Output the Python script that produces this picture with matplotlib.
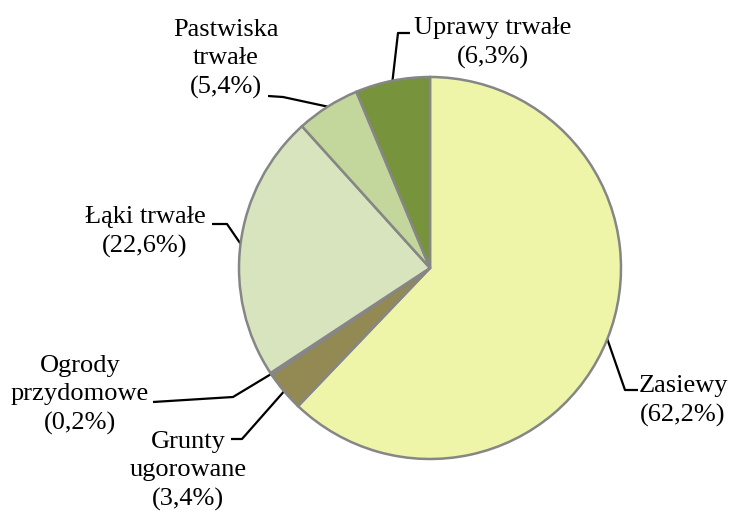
import numpy as np
import matplotlib
matplotlib.use("Agg")
import matplotlib.pyplot as plt

labels = ["Zasiewy", "Grunty\nugorowane", "Ogrody\nprzydomowe", "Łąki trwałe", "Pastwiska\ntrwałe", "Uprawy trwałe"]
shares = [62.2, 3.4, 0.2, 22.6, 5.4, 6.3]
colors = ["#EEF5A8", "#938953", "#8C8C8C", "#D7E4BD", "#C3D69B", "#77933C"]

# label layout in pixel coords: text centre, elbow point, end of leader
text_pos = [(683, 401), (188, 471), (80, 395), (145, 232), (226, 59), (493, 43)]
elbows = [(625, 390), (242, 439), (233, 397), (227, 224), (283, 97), (398, 33)]
ends = [(638, 390), (231, 439), (153, 402), (212, 224), (268, 96), (410, 33)]

W, H = 732, 514
cx, cy, R = 430, 268, 191

plt.rcParams["font.family"] = ["Liberation Serif", "DejaVu Serif"]

fig = plt.figure(figsize=(W / 100, H / 100), dpi=100)
ax = fig.add_axes([0, 0, 1, 1])

def fy(y):
    return H - y

wedges, _ = ax.pie(shares, colors=colors, startangle=90, counterclock=False,
                   center=(cx, fy(cy)), radius=R, frame=True,
                   wedgeprops=dict(edgecolor="#868686", linewidth=1.8))
ax.set_xlim(0, W)
ax.set_ylim(0, H)
ax.set_aspect("equal")
ax.axis("off")

for i, w in enumerate(wedges):
    mid = np.deg2rad((w.theta1 + w.theta2) / 2)
    sx = cx + R * np.cos(mid)
    sy = fy(cy) + R * np.sin(mid)
    ex, ey = elbows[i]
    tx, ty = ends[i]
    ax.plot([sx, ex, tx], [sy, fy(ey), fy(ty)], color="black", lw=1.6,
            solid_capstyle="butt", zorder=0.5)
    pct = f"({shares[i]:.1f}%)".replace(".", ",")
    ax.text(text_pos[i][0], fy(text_pos[i][1]), labels[i] + "\n" + pct,
            ha="center", va="center", multialignment="center",
            fontsize=19, linespacing=1.38)

fig.savefig("out.png", dpi=100)
